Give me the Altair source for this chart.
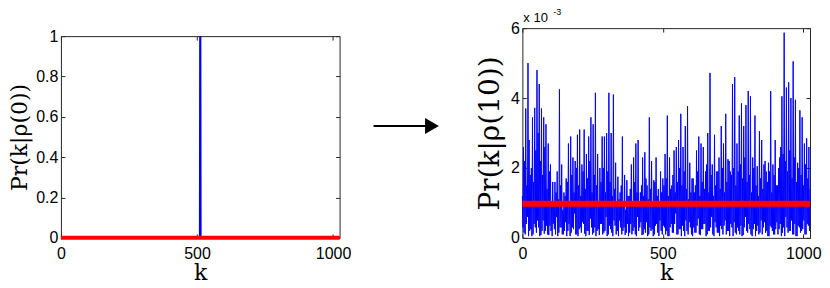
import altair as alt
import pandas as pd

# ---------------- data ----------------
K_DOMAIN = [0, 1024]
x_ticks = [0, 500, 1000]

# left panel: initial distribution (delta at k = 512)
left_k = [0, 511, 512, 513, 1024]
left_p = [0, 0, 1, 0, 0]

# uniform reference distribution 1/1024
uniform_k = [0, 1024]
uniform_p = [1 / 1024, 1 / 1024]

# right panel: values, in units of 1e-3
# tall spikes at k = 8j + 4
right_high = [
    2.6, 3.7, 5.0, 1.8, 3.45, 3.72, 4.8, 4.4, 3.7, 3.45, 3.25, 2.7, 2.1, 1.6, 1.6, 1.9,
    4.25, 2.1, 1.3, 1.7, 2.7, 2.9, 2.3, 2.2, 2.95, 3.1, 2.1, 3.1, 2.4, 2.9, 3.45, 3.25,
    4.15, 2.4, 2.0, 2.9, 2.9, 3.0, 4.15, 3.0, 4.1, 2.15, 1.75, 1.3, 2.9, 1.8, 1.65, 1.2,
    2.1, 2.3, 2.7, 2.8, 1.3, 2.3, 2.45, 1.5, 3.45, 2.2, 1.65, 2.3, 1.4, 1.9, 1.7, 2.4,
    3.5, 2.3, 1.5, 2.5, 2.6, 2.8, 3.55, 2.6, 3.2, 3.77, 2.15, 1.7, 1.3, 2.5, 2.9, 2.7,
    2.6, 1.9, 3.0, 4.72, 2.1, 2.95, 1.9, 2.3, 3.2, 2.7, 3.55, 2.25, 1.9, 4.4, 4.6, 2.7,
    3.5, 3.85, 3.2, 3.8, 4.2, 4.05, 2.3, 3.5, 2.05, 3.05, 2.8, 2.1, 1.9, 2.15, 4.2, 2.1,
    2.8, 1.5, 2.3, 4.05, 5.87, 4.3, 4.45, 4.0, 5.05, 3.95, 2.15, 3.65, 3.45, 2.7, 2.85, 2.6,
]
# smaller spikes at k = 8j
right_mid = [
    1.2, 2.2, 1.5, 2.8, 2.0, 1.6, 2.5, 3.0, 2.2, 1.8, 2.6, 1.4, 1.9, 1.0, 0.9, 1.3,
    1.1, 1.5, 0.8, 1.2, 1.6, 1.0, 1.8, 1.3, 2.0, 1.5, 1.2, 1.9, 1.4, 1.7, 2.2, 1.3,
    1.8, 1.5, 1.0, 1.6, 2.0, 1.3, 1.9, 1.6, 1.2, 1.4, 0.9, 1.1, 1.5, 1.0, 0.8, 1.2,
    1.4, 1.0, 1.6, 1.3, 0.9, 1.5, 1.2, 1.7, 1.1, 1.4, 0.9, 1.6, 1.2, 1.0, 1.3, 1.5,
    1.7, 1.2, 1.4, 1.8, 1.3, 1.6, 2.0, 1.5, 1.9, 1.4, 1.1, 1.3, 1.7, 1.5, 1.9, 1.2,
    1.6, 1.4, 2.1, 1.3, 1.8, 1.2, 1.5, 1.9, 1.4, 2.0, 1.3, 1.6, 2.2, 1.8, 2.0, 1.5,
    1.9, 2.1, 1.7, 2.3, 1.6, 1.8, 1.3, 2.0, 1.5, 1.2, 1.7, 1.4, 2.2, 1.6, 1.9, 1.3,
    1.8, 1.5, 2.0, 2.6, 2.4, 2.2, 1.9, 2.5, 1.7, 2.3, 1.6, 2.0, 1.8, 1.5, 2.1, 1.7, 1.4,
]
# troughs at k = 8j + 2
right_low_a = [
    0.3, 0.1, 0.6, 0.2, 0.05, 0.4, 0.15, 0.3, 0.08, 0.5, 0.2, 0.1, 0.35, 0.05, 0.25, 0.6,
    0.15, 0.3, 0.1, 0.45, 0.2, 0.05, 0.3, 0.7, 0.1, 0.25, 0.15, 0.4, 0.05, 0.2, 0.55, 0.1,
    0.3, 0.2, 0.08, 0.4, 0.15, 0.6, 0.1, 0.25, 0.05, 0.35, 0.2, 0.5, 0.1, 0.3, 0.15, 0.05,
    0.4, 0.2, 0.1, 0.6, 0.3, 0.08, 0.25, 0.45, 0.1, 0.2, 0.05, 0.35, 0.15, 0.5, 0.1, 0.3,
    0.2, 0.05, 0.4, 0.15, 0.7, 0.1, 0.25, 0.35, 0.05, 0.2, 0.45, 0.1, 0.3, 0.15, 0.55, 0.08,
    0.25, 0.4, 0.1, 0.2, 0.6, 0.05, 0.3, 0.15, 0.35, 0.1, 0.5, 0.2, 0.05, 0.3, 0.45, 0.1,
    0.2, 0.35, 0.08, 0.6, 0.15, 0.25, 0.05, 0.4, 0.2, 0.1, 0.5, 0.3, 0.15, 0.05, 0.35, 0.2,
    0.1, 0.45, 0.25, 0.05, 0.3, 0.6, 0.15, 0.2, 0.1, 0.4, 0.05, 0.3, 0.2, 0.5, 0.1, 0.35,
]
# troughs at k = 8j + 6
right_low_b = [
    0.15, 0.4, 0.05, 0.25, 0.1, 0.3, 0.5, 0.05, 0.2, 0.12, 0.35, 0.08, 0.2, 0.4, 0.1, 0.05,
    0.3, 0.1, 0.2, 0.05, 0.4, 0.15, 0.25, 0.1, 0.05, 0.3, 0.45, 0.12, 0.2, 0.08, 0.3, 0.15,
    0.05, 0.25, 0.4, 0.1, 0.2, 0.05, 0.35, 0.15, 0.5, 0.1, 0.05, 0.3, 0.2, 0.08, 0.4, 0.15,
    0.1, 0.3, 0.05, 0.2, 0.45, 0.1, 0.15, 0.05, 0.3, 0.25, 0.1, 0.4, 0.05, 0.2, 0.35, 0.1,
    0.05, 0.3, 0.15, 0.4, 0.1, 0.25, 0.05, 0.2, 0.5, 0.1, 0.3, 0.05, 0.15, 0.35, 0.1, 0.25,
    0.4, 0.05, 0.2, 0.3, 0.1, 0.45, 0.15, 0.05, 0.25, 0.35, 0.1, 0.2, 0.4, 0.05, 0.15, 0.3,
    0.1, 0.05, 0.3, 0.2, 0.4, 0.1, 0.25, 0.05, 0.35, 0.15, 0.1, 0.45, 0.2, 0.05, 0.3, 0.1,
    0.25, 0.1, 0.4, 0.15, 0.05, 0.3, 0.2, 0.5, 0.1, 0.05, 0.35, 0.15, 0.25, 0.1, 0.4, 0.2,
]

rows = [(8 * j, v * 1e-3) for j, v in enumerate(right_mid)]
rows += [(8 * j + 2, v * 1e-3) for j, v in enumerate(right_low_a)]
rows += [(8 * j + 4, v * 1e-3) for j, v in enumerate(right_high)]
rows += [(8 * j + 6, v * 1e-3) for j, v in enumerate(right_low_b)]
right_df = pd.DataFrame(rows, columns=["k", "p"]).sort_values("k")
left_df = pd.DataFrame({"k": left_k, "p": left_p})
uni_df = pd.DataFrame({"k": uniform_k, "p": uniform_p})
one = pd.DataFrame({"a": [0]})

BLUE = "#0000ff"
RED = "#ff0000"
INK = "#262626"
TITLE_FONT = "DejaVu Serif"
LABEL_FONT = "Liberation Sans"
TICK = 4


def label_axis(orient, values, title, title_size=22, title_pad=4, label_pad=3, **kw):
    return alt.Axis(
        orient=orient, values=values, title=title, ticks=False, tickSize=0,
        domain=False, grid=False, labelPadding=label_pad, titlePadding=title_pad,
        labelFont=LABEL_FONT, labelFontSize=16, labelColor="black",
        titleFont=TITLE_FONT, titleFontSize=title_size, titleFontWeight="normal",
        titleColor="black", labelFlush=False, **kw)


def edge_axis(orient, values, offset):
    return alt.Axis(
        orient=orient, values=values, title=None, labels=False, offset=offset,
        ticks=True, tickSize=TICK, tickColor=INK, domain=True, domainColor=INK,
        domainWidth=1, grid=False)


def panel(blue_df, blue_width, ymax, yticks, ytitle, W, H, T, red_width,
          ytitle_size, ytitle_pad, ylabel_expr, extras):
    xs = alt.Scale(domain=K_DOMAIN, nice=False, zero=False)
    ys = alt.Scale(domain=[0, ymax], nice=False, range=[H, T])
    y_kw = {"labelExpr": ylabel_expr} if ylabel_expr else {"format": "~g"}
    blue = alt.Chart(blue_df).mark_line(color=BLUE, strokeWidth=blue_width).encode(
        x=alt.X("k:Q", scale=xs, axis=label_axis("bottom", x_ticks, "k",
                                                  label_pad=8, title_pad=1, format="d")),
        y=alt.Y("p:Q", scale=ys, axis=label_axis("left", yticks, ytitle,
                                                  title_size=ytitle_size,
                                                  title_pad=ytitle_pad, **y_kw)),
    )
    # bottom edge and left edge (inward ticks)
    red = alt.Chart(uni_df).mark_line(color=RED, strokeWidth=red_width).encode(
        x=alt.X("k:Q", scale=xs, axis=edge_axis("top", x_ticks, -H)),
        y=alt.Y("p:Q", scale=ys, axis=edge_axis("right", yticks, -W)),
    )
    # top edge and right edge (inward ticks)
    frame = alt.Chart(uni_df).mark_line(opacity=0).encode(
        x=alt.X("k:Q", scale=xs, axis=edge_axis("bottom", x_ticks, -(H - T))),
        y=alt.Y("p:Q", scale=ys, axis=edge_axis("left", yticks, -W)),
    )
    return alt.layer(blue, frame, red, *extras).resolve_scale(
        x="independent", y="independent").properties(width=W, height=H)


# right-panel decorations: exponent label and the arrow between panels
exp_base = alt.Chart(one).mark_text(
    align="left", baseline="alphabetic", font=LABEL_FONT, fontSize=13, color="black"
).encode(x=alt.value(1), y=alt.value(-6), text=alt.value("x 10"))
exp_sup = alt.Chart(one).mark_text(
    align="left", baseline="alphabetic", font=LABEL_FONT, fontSize=9, color="black"
).encode(x=alt.value(31), y=alt.value(-13), text=alt.value("-3"))
arrow_line = alt.Chart(one).mark_rule(color="black", strokeWidth=2).encode(
    x=alt.value(-149), x2=alt.value(-93), y=alt.value(98))
arrow_head = alt.Chart(one).mark_point(
    shape="triangle-right", filled=True, size=256, color="black", opacity=1
).encode(x=alt.value(-90.5), y=alt.value(98))

left = panel(left_df, 2.2, 1, [0, 0.2, 0.4, 0.6, 0.8, 1], "Pr(k|ρ(0))",
             W=279, H=210, T=8, red_width=4, ytitle_size=22, ytitle_pad=4,
             ylabel_expr=None, extras=[])
right = panel(right_df, 1, 0.006, [0, 0.002, 0.004, 0.006], "Pr(k|ρ(10))",
              W=288, H=210, T=0, red_width=6, ytitle_size=28, ytitle_pad=6,
              ylabel_expr="round(datum.value * 1000)",
              extras=[exp_base, exp_sup, arrow_line, arrow_head])

chart = alt.hconcat(left, right, spacing=21).properties(
    padding={"left": 0, "top": 0, "right": 0, "bottom": 0}
).configure_view(strokeWidth=0)

chart.save("out.html", embed_options={"renderer": "svg", "actions": False})
